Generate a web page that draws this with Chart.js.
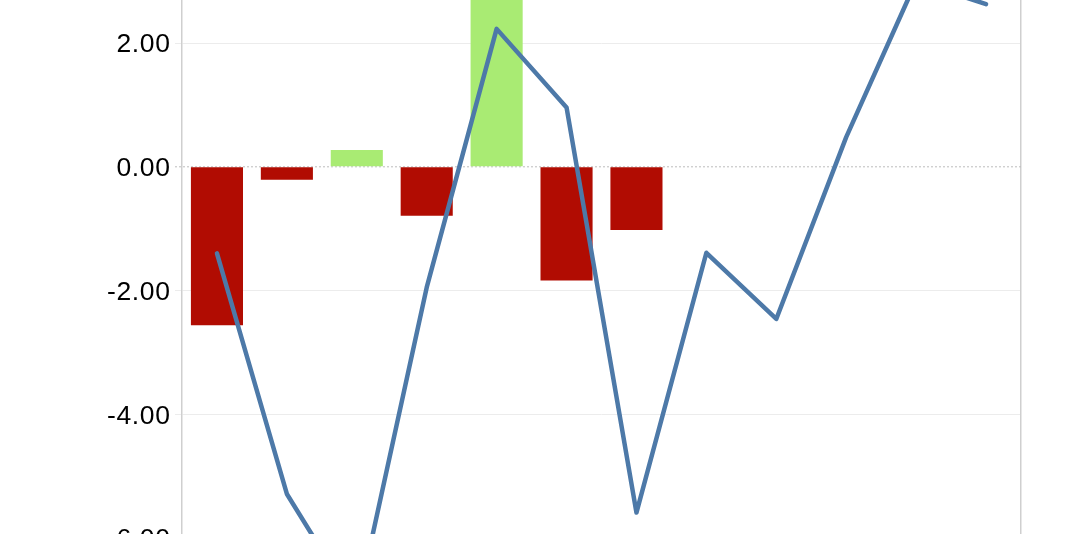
<!DOCTYPE html>
<html>
<head>
<meta charset="utf-8">
<script src="https://cdn.jsdelivr.net/npm/chart.js@4/dist/chart.umd.min.js"></script>
<style>
  html, body { margin: 0; padding: 0; background: #fff; overflow: hidden; }
  body { width: 1068px; height: 534px; position: relative; }
  #wrap { position: absolute; left: 0; top: -101px; width: 1068px; height: 783px; }
</style>
</head>
<body>
<div id="wrap"><canvas id="combo-chart"></canvas></div>
<script>
const periods = ["P1", "P2", "P3", "P4", "P5", "P6", "P7", "P8", "P9", "P10", "P11", "P12"];
const barValues = [-2.56, -0.21, 0.27, -0.79, 3.3, -1.84, -1.02, null, null, null, null, null];
const lineValues = [-1.40, -5.29, -7.12, -1.95, 2.23, 0.96, -5.59, -1.39, -2.46, 0.48, 3.0, 2.63];
const yTicks = { min: -8, max: 4, step: 2 };

const COLORS = {
  up: "#a9eb73",
  down: "#b10c02",
  line: "#4d79a8",
  grid: "#ececec",
  axis: "#cfcfcf",
  zero: "#bcbcbc",
};

// dotted line at zero, starting at the tick mark
const zeroLine = {
  id: "zeroLine",
  beforeDraw(chart) {
    chart.ctx.letterSpacing = "0.6px"; // tick labels are a little wider than plain Arial
  },
  beforeDatasetsDraw(chart) {
    const y = chart.scales.y.getPixelForValue(0);
    const area = chart.chartArea;
    const ctx = chart.ctx;
    ctx.save();
    ctx.strokeStyle = COLORS.zero;
    ctx.lineWidth = 1;
    ctx.setLineDash([2, 2]);
    ctx.beginPath();
    ctx.moveTo(area.left - 7, y);
    ctx.lineTo(area.right, y);
    ctx.stroke();
    ctx.restore();
  },
  afterDraw(chart) {
    chart.ctx.letterSpacing = "0px";
  },
};

const data_combo = {
  labels: periods,
  datasets: [
    {
      type: "line",
      data: lineValues,
      borderColor: COLORS.line,
      borderWidth: 4.5,
      pointRadius: 0,
      borderJoinStyle: "round",
      borderCapStyle: "round",
      tension: 0,
      order: 0,
    },
    {
      type: "bar",
      data: barValues,
      backgroundColor: (c) => (c.raw >= 0 ? COLORS.up : COLORS.down),
      categoryPercentage: 1,
      barPercentage: 0.745,
      order: 1,
    },
  ],
};

const config_combo = {
  type: "bar",
  data: data_combo,
  options: {
    responsive: true,
    maintainAspectRatio: false,
    animation: false,
    layout: { padding: { top: 20, bottom: 20, left: 0, right: 47 } },
    plugins: {
      legend: { display: false },
      tooltip: { enabled: false },
    },
    scales: {
      x: { display: false },
      y: {
        min: yTicks.min,
        max: yTicks.max,
        afterFit: (scale) => { scale.width = 182; },
        ticks: {
          stepSize: yTicks.step,
          padding: 4.5,
          labelOffset: 2,
          color: "#000",
          font: { family: "Liberation Sans, Arial, sans-serif", size: 26.5 },
          callback: (v) => v.toFixed(2),
        },
        grid: {
          color: (c) => (c.tick && c.tick.value === 0 ? "rgba(0,0,0,0)" : COLORS.grid),
          tickLength: 7,
          lineWidth: 1,
        },
        border: { color: COLORS.axis, width: 1.5 },
      },
      y2: {
        position: "right",
        afterFit: (scale) => { scale.width = 0; },
        ticks: { display: false },
        grid: { drawOnChartArea: false, drawTicks: false },
        border: { color: COLORS.axis, width: 1.5 },
      },
    },
  },
  plugins: [zeroLine],
};

var ctx_combo = document.getElementById("combo-chart").getContext("2d");
var myChart_combo = new Chart(ctx_combo, config_combo);
</script>
</body>
</html>
